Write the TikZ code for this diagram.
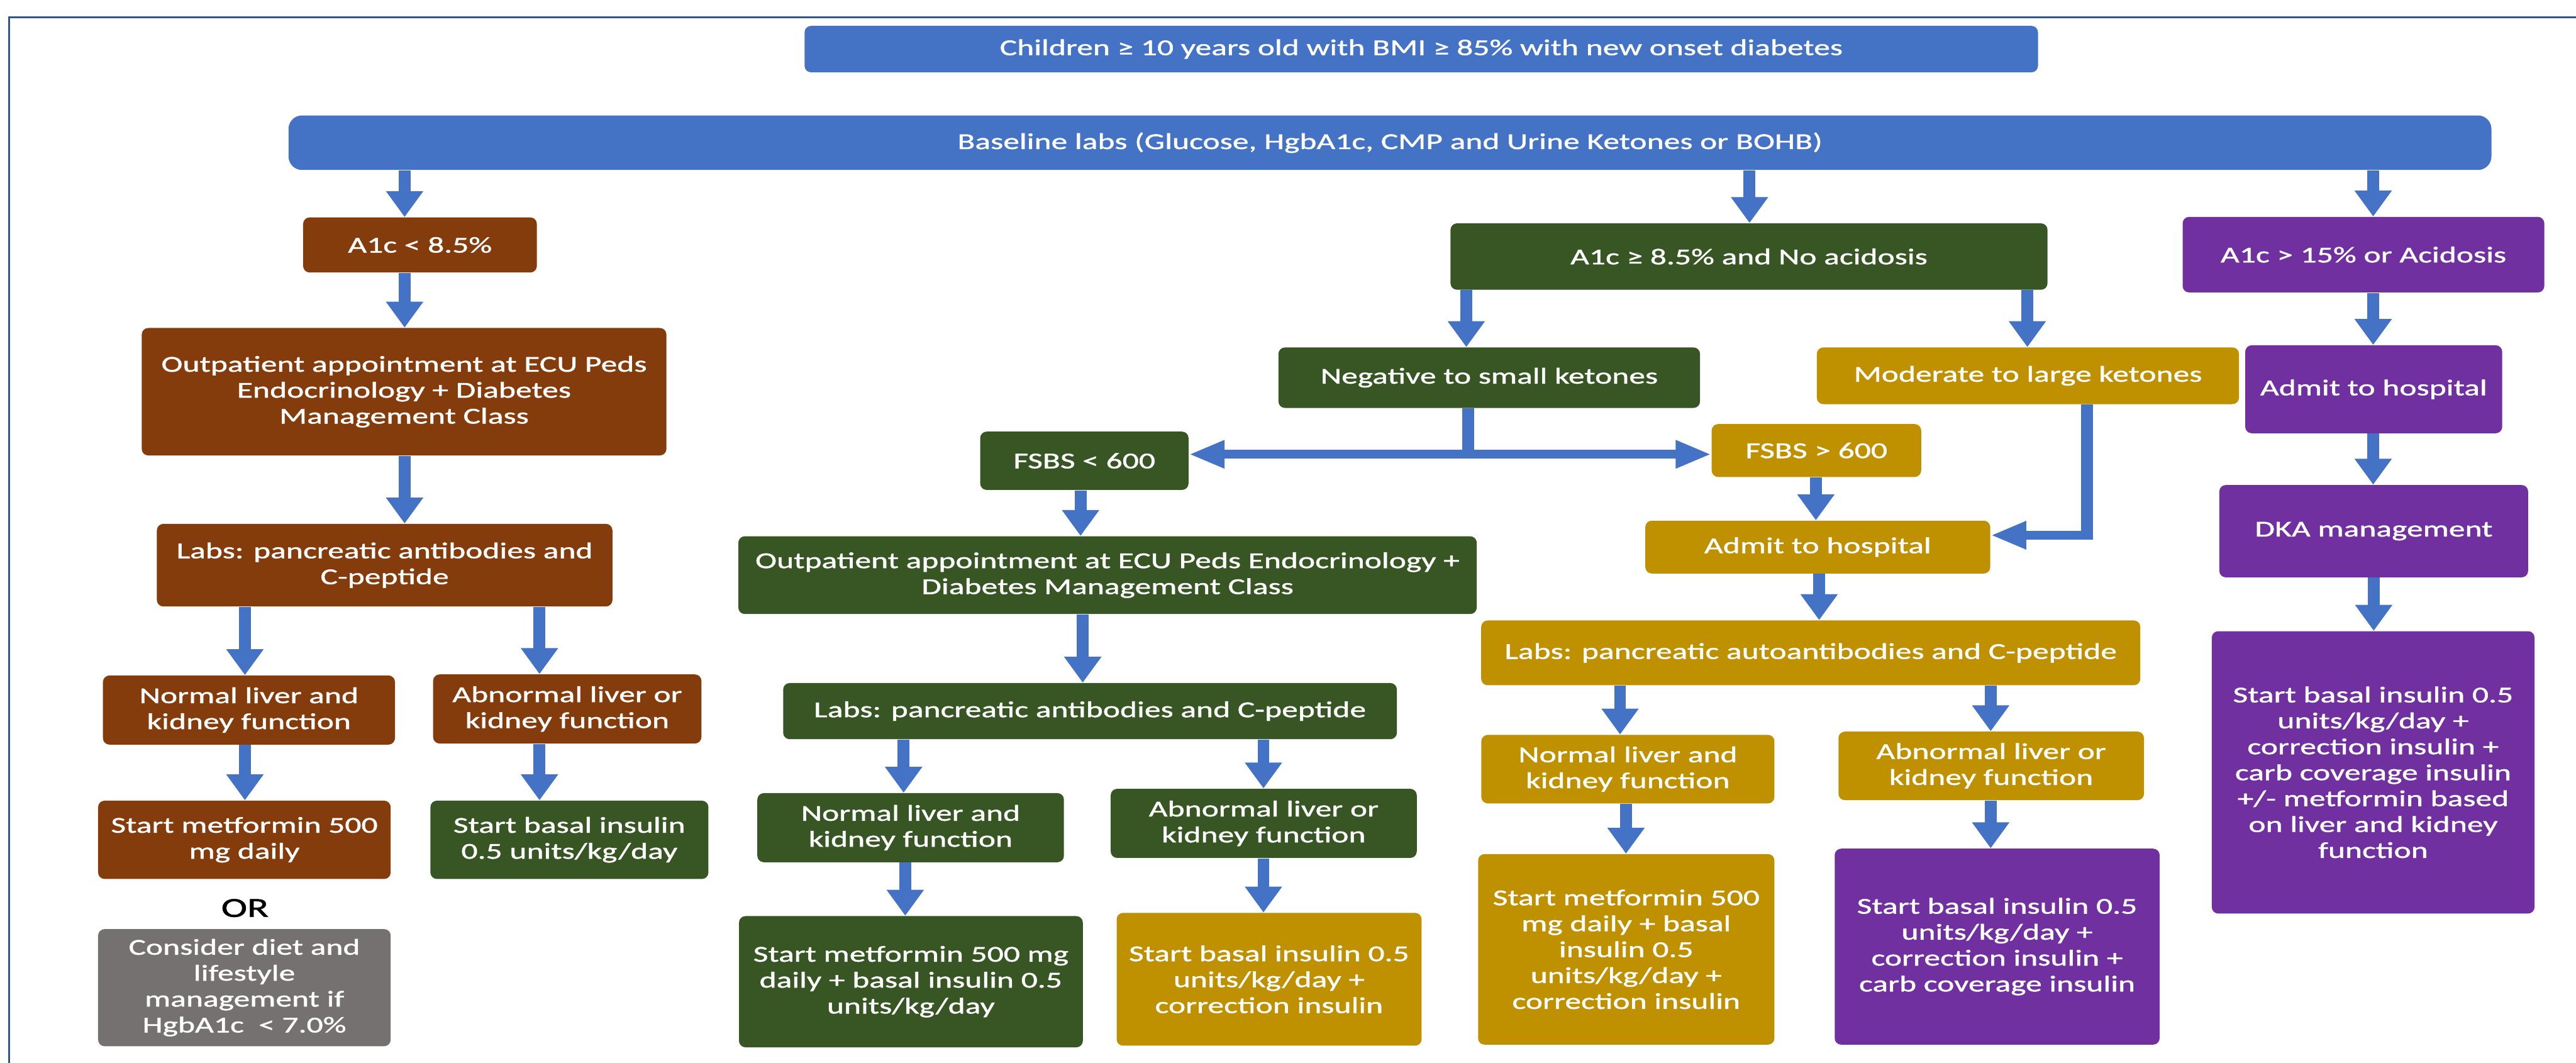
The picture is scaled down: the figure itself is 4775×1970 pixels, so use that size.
\documentclass[tikz,border=0pt]{standalone}
\usepackage{fontspec}
\setmainfont{Carlito}[FakeStretch=1.43,FakeBold=1.2]
\usetikzlibrary{arrows.meta}
\definecolor{cblue}{HTML}{4472C4}
\definecolor{cbrown}{HTML}{843C0C}
\definecolor{cgreen}{HTML}{375623}
\definecolor{cgold}{HTML}{BF9000}
\definecolor{cpurple}{HTML}{7030A0}
\definecolor{cgray}{HTML}{767171}
\definecolor{cframe}{HTML}{2F5597}
\tikzset{
  bx/.style={rectangle, rounded corners=0.12cm, fill=#1, inner sep=0pt, text=white, align=center,
    font=\fontsize{11.95pt}{13.66pt}\selectfont},
  varr/.style={draw=cblue, line width=0.22cm, -{Triangle[width=0.66cm,length=0.48cm]}},
  harr/.style={draw=cblue, line width=0.16cm, -{Triangle[width=0.48cm,length=0.66cm]}},
  vline/.style={draw=cblue, line width=0.22cm},
}
\newcommand{\vconn}[3]{\draw[varr] (#1,0 |- #2.south) -- (#1,0 |- #3.north);}
\begin{document}
\begin{tikzpicture}[x=0.01cm,y=-0.01cm]
\useasboundingbox (0,0) rectangle (4775,1970);
\fill[white] (0,0) rectangle (4775,1970);
\draw[cframe, line width=0.03cm] (17,1980) -- (17,32) -- (4785,32);

% top
\node[bx=cblue, minimum width=22.85cm, minimum height=0.86cm] (top) at (2634.5,91) {Children ≥ 10 years old with BMI ≥ 85\% with new onset diabetes};
\node[bx=cblue, rounded corners=0.25cm, minimum width=40.81cm, minimum height=1.01cm] (base) at (2576.5,264.5) {Baseline labs (Glucose, HgbA1c, CMP and Urine Ketones or BOHB)};

% left branch
\node[bx=cbrown, minimum width=4.33cm, minimum height=1.02cm] (a1clow) at (778.5,454) {A1c < 8.5\%};
\node[bx=cbrown, minimum width=9.72cm, minimum height=2.36cm] (out1) at (749,726) {Outpatient appointment at ECU Peds\\Endocrinology + Diabetes\\Management Class};
\node[bx=cbrown, minimum width=8.44cm, minimum height=1.53cm] (labs1) at (713,1047.5) {Labs: pancreatic antibodies and\\C-peptide};
\node[bx=cbrown, minimum width=5.41cm, minimum height=1.28cm] (norm1) at (461.5,1316) {Normal liver and\\kidney function};
\node[bx=cbrown, minimum width=4.97cm, minimum height=1.28cm] (abn1) at (1051.5,1314) {Abnormal liver or\\kidney function};
\node[bx=cbrown, minimum width=5.42cm, minimum height=1.45cm] (met1) at (453,1556.5) {Start metformin 500\\mg daily};
\node[bx=cgreen, minimum width=5.15cm, minimum height=1.45cm] (bas1) at (1055.5,1556.5) {Start basal insulin\\0.5 units/kg/day};
\node[text=black, inner sep=0pt, font=\fontsize{14.5pt}{14.5pt}\selectfont] (or) at (454,1683) {OR};
\node[bx=cgray, minimum width=5.42cm, minimum height=2.17cm] (cons) at (453,1830.5) {Consider diet and\\lifestyle\\management if\\HgbA1c\ \ < 7.0\%};

% middle branch
\node[bx=cgreen, minimum width=11.06cm, minimum height=1.23cm] (a1cmid) at (3242,475.5) {A1c ≥ 8.5\% and No acidosis};
\node[bx=cgreen, minimum width=7.81cm, minimum height=1.12cm] (neg) at (2760.5,700) {Negative to small ketones};
\node[bx=cgold, minimum width=7.82cm, minimum height=1.05cm] (mod) at (3759,696.5) {Moderate to large ketones};
\node[bx=cgreen, minimum width=3.86cm, minimum height=1.08cm] (fs1) at (2010,854) {FSBS < 600};
\node[bx=cgold, minimum width=3.88cm, minimum height=0.98cm] (fs2) at (3367,835) {FSBS > 600};
\node[bx=cgreen, minimum width=13.68cm, minimum height=1.44cm] (out2) at (2053,1066) {Outpatient appointment at ECU Peds Endocrinology +\\Diabetes Management Class};
\node[bx=cgold, minimum width=6.39cm, minimum height=0.98cm] (adm2) at (3369.5,1014) {Admit to hospital};
\node[bx=cgreen, minimum width=11.37cm, minimum height=1.04cm] (labs2) at (2020.5,1318) {Labs: pancreatic antibodies and C-peptide};
\node[bx=cgold, minimum width=12.21cm, minimum height=1.20cm] (labs3) at (3356.5,1210) {Labs: pancreatic autoantibodies and C-peptide};
\node[bx=cgreen, minimum width=5.68cm, minimum height=1.28cm] (norm2) at (1688,1534) {Normal liver and\\kidney function};
\node[bx=cgreen, minimum width=5.67cm, minimum height=1.28cm] (abn2) at (2342.5,1526) {Abnormal liver or\\kidney function};
\node[bx=cgreen, minimum width=6.37cm, minimum height=2.43cm] (met2) at (1688.5,1819.5) {Start metformin 500 mg\\daily + basal insulin 0.5\\units/kg/day};
\node[bx=cgold, minimum width=5.65cm, minimum height=2.46cm] (bas2) at (2352.5,1815) {Start basal insulin 0.5\\units/kg/day +\\correction insulin};
\node[bx=cgold, minimum width=5.43cm, minimum height=1.27cm] (norm3) at (3017.5,1425.5) {Normal liver and\\kidney function};
\node[bx=cgold, minimum width=5.66cm, minimum height=1.27cm] (abn3) at (3691,1419.5) {Abnormal liver or\\kidney function};
\node[bx=cgold, minimum width=5.49cm, minimum height=3.53cm] (met3) at (3014.5,1759.5) {Start metformin 500\\mg daily + basal\\insulin 0.5\\units/kg/day +\\correction insulin};
\node[bx=cpurple, minimum width=6.02cm, minimum height=3.63cm] (bas3) at (3702,1754.5) {Start basal insulin 0.5\\units/kg/day +\\correction insulin +\\carb coverage insulin};

% right branch
\node[bx=cpurple, minimum width=6.70cm, minimum height=1.40cm] (a1chigh) at (4381,472) {A1c > 15\% or Acidosis};
\node[bx=cpurple, minimum width=4.76cm, minimum height=1.63cm] (adm4) at (4400,721.5) {Admit to hospital};
\node[bx=cpurple, minimum width=5.72cm, minimum height=1.71cm] (dka) at (4400,984.5) {DKA management};
\node[bx=cpurple, minimum width=5.98cm, minimum height=5.23cm] (bas4) at (4399,1431.5) {Start basal insulin 0.5\\units/kg/day +\\correction insulin +\\carb coverage insulin\\+/- metformin based\\on liver and kidney\\function};

% vertical arrows
\vconn{750}{base}{a1clow}
\vconn{750}{a1clow}{out1}
\vconn{750}{out1}{labs1}
\vconn{454}{labs1}{norm1}
\vconn{1000}{labs1}{abn1}
\vconn{454}{norm1}{met1}
\vconn{1000}{abn1}{bas1}
\vconn{3243}{base}{a1cmid}
\vconn{4399}{base}{a1chigh}
\vconn{2718}{a1cmid}{neg}
\vconn{3758}{a1cmid}{mod}
\vconn{2003}{fs1}{out2}
\vconn{3366}{fs2}{adm2}
\vconn{3372}{adm2}{labs3}
\vconn{2007}{out2}{labs2}
\vconn{1675}{labs2}{norm2}
\vconn{2342}{labs2}{abn2}
\vconn{1678}{norm2}{met2}
\vconn{2342}{abn2}{bas2}
\vconn{3003}{labs3}{norm3}
\vconn{3690}{labs3}{abn3}
\vconn{3014}{norm3}{met3}
\vconn{3690}{abn3}{bas3}
\vconn{4399}{a1chigh}{adm4}
\vconn{4399}{adm4}{dka}
\vconn{4400}{dka}{bas4}

% T junction from negative ketones
\coordinate (tj) at (2721,842);
\draw[vline] (tj |- neg.south) -- (2721,850);
\draw[harr] (tj) -- (fs1.east |- tj);
\draw[harr] (tj) -- (fs2.west |- tj);

% elbow from moderate ketones
\coordinate (el) at (3880,992);
\draw[vline] (3869,0 |- mod.south) -- (3869,1000);
\draw[harr] (el) -- (adm2.east |- el);
\end{tikzpicture}
\end{document}
